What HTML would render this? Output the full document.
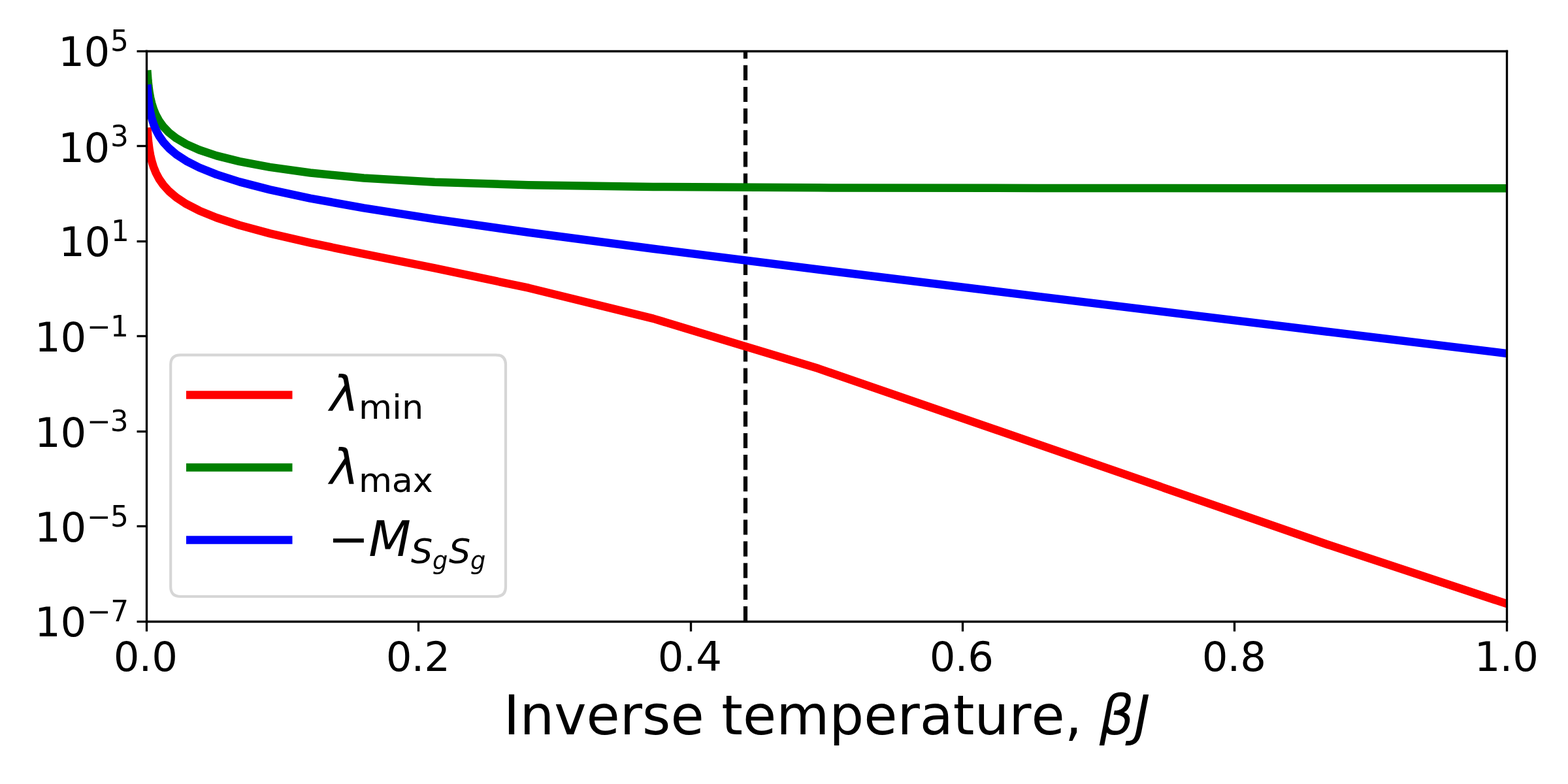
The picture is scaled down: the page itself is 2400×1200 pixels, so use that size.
<!DOCTYPE html>
<html lang="en">
<head>
<meta charset="utf-8">
<title>Eigenvalues vs inverse temperature</title>
<style>
html,body{margin:0;padding:0;background:#fff;}
body{width:2400px;height:1200px;overflow:hidden;}
svg{display:block;}
text{font-family:"DejaVu Sans","Liberation Sans",sans-serif;fill:#000;white-space:pre;}
.it{font-style:oblique;}
.tk{font-size:62.5px;}
.sp{font-size:43.75px;}
.xl{font-size:83.333px;}
.lg{font-size:75px;}
.ls{font-size:52.5px;}
.lss{font-size:36.75px;}
.curve{fill:none;stroke-width:12.5;stroke-linecap:square;stroke-linejoin:round;}
.spine{fill:none;stroke:#000;stroke-width:3.3333;stroke-linecap:square;}
.tick{fill:none;stroke:#000;stroke-width:3.3333;stroke-linecap:butt;}
</style>
</head>
<body>
<svg width="2400" height="1200" viewBox="0 0 2400 1200">
<rect x="0" y="0" width="2400" height="1200" fill="#ffffff"/>
<defs><clipPath id="axclip"><rect x="223.7" y="77.75" width="2082" height="873"/></clipPath></defs>
<g clip-path="url(#axclip)">
<line x1="1141" y1="951" x2="1141" y2="78" stroke="#000" stroke-width="6.25" stroke-dasharray="23.125 10" fill="none"/>
<polyline class="curve" stroke="#ff0000" points="225.78,201.48 226.46,210.43 227.36,219.39 228.55,228.37 230.13,237.38 232.23,246.41 235,255.49 238.68,264.63 243.56,273.84 250.03,283.16 258.61,292.61 269.98,302.26 285.06,312.16 305.04,322.43 331.54,333.21 366.66,344.74 413.22,357.35 474.95,371.66 556.79,388.68 665.28,410.39 809.11,440.71 999.79,487.61 1252.56,564.1 1587.68,679.62 2031.94,833.5 2620.91,1027.97"/>
<polyline class="curve" stroke="#008000" points="225.78,113.75 226.46,122.66 227.36,131.57 228.55,140.47 230.13,149.38 232.23,158.29 235,167.2 238.68,176.11 243.56,185.01 250.03,193.92 258.61,202.82 269.98,211.72 285.06,220.61 305.04,229.49 331.54,238.35 366.66,247.17 413.22,255.91 474.95,264.48 556.79,272.52 665.28,278.81 809.11,283.17 999.79,285.9 1252.56,287.36 1587.68,287.97 2031.94,288.16 2620.91,288.2"/>
<polyline class="curve" stroke="#0000ff" points="225.78,135.78 226.46,144.73 227.36,153.69 228.55,162.67 230.13,171.67 232.23,180.71 235,189.79 238.68,198.92 243.56,208.13 250.03,217.44 258.61,226.87 269.98,236.49 285.06,246.35 305.04,256.52 331.54,267.14 366.66,278.35 413.22,290.38 474.95,303.56 556.79,318.34 665.28,335.41 809.11,355.75 999.79,380.78 1252.56,412.49 1587.68,453.62 2031.94,507.69 2620.91,579.22"/>
</g>
<g>
<line class="tick" x1="224.5" y1="951.5" x2="224.5" y2="966.5"/>
<line class="tick" x1="640.5" y1="951.5" x2="640.5" y2="966.5"/>
<line class="tick" x1="1057.5" y1="951.5" x2="1057.5" y2="966.5"/>
<line class="tick" x1="1473.5" y1="951.5" x2="1473.5" y2="966.5"/>
<line class="tick" x1="1889.5" y1="951.5" x2="1889.5" y2="966.5"/>
<line class="tick" x1="2306.5" y1="951.5" x2="2306.5" y2="966.5"/>
<line class="tick" x1="224.5" y1="78.5" x2="209.5" y2="78.5"/>
<line class="tick" x1="224.5" y1="223.5" x2="209.5" y2="223.5"/>
<line class="tick" x1="224.5" y1="369.5" x2="209.5" y2="369.5"/>
<line class="tick" x1="224.5" y1="514.5" x2="209.5" y2="514.5"/>
<line class="tick" x1="224.5" y1="660.5" x2="209.5" y2="660.5"/>
<line class="tick" x1="224.5" y1="805.5" x2="209.5" y2="805.5"/>
<line class="tick" x1="224.5" y1="951.5" x2="209.5" y2="951.5"/>
</g>
<g>
<line class="spine" x1="224.5" y1="951.5" x2="224.5" y2="78.5"/>
<line class="spine" x1="2306.5" y1="951.5" x2="2306.5" y2="78.5"/>
<line class="spine" x1="224.5" y1="951.5" x2="2306.5" y2="951.5"/>
<line class="spine" x1="224.5" y1="78.5" x2="2306.5" y2="78.5"/>
</g>
<g class="tk">
<text x="173.8 212.57 232.33" y="1027">0.0</text>
<text x="590.8 629.57 649.33" y="1027">0.2</text>
<text x="1006.8 1045.57 1065.33" y="1027">0.4</text>
<text x="1422.8 1461.57 1481.33" y="1027">0.6</text>
<text x="1839.8 1878.57 1898.33" y="1027">0.8</text>
<text x="2256.8 2295.57 2315.33" y="1027">1.0</text>
</g>
<g>
<text class="tk" x="89.13 128.59" y="101">10</text><text class="sp" x="168.96" y="78">5</text>
<text class="tk" x="89.13 128.59" y="248">10</text><text class="sp" x="168.96" y="224">3</text>
<text class="tk" x="90.13 129.59" y="392">10</text><text class="sp" x="170.06" y="369">1</text>
<text class="tk" x="53.05 92.52" y="538">10</text><text class="sp" x="132.88 168.94" y="515">−1</text>
<text class="tk" x="53.05 92.52" y="684">10</text><text class="sp" x="132.98 168.74" y="660">−3</text>
<text class="tk" x="53.05 92.52" y="829">10</text><text class="sp" x="132.98 168.94" y="806">−5</text>
<text class="tk" x="53.05 92.52" y="974">10</text><text class="sp" x="132.98 169.14" y="951">−7</text>
</g>
<text class="xl" x="770.8 795.38 848.19 897.51 948.78 983.04 1026.46 1077.73 1104.21 1136.89 1188.16 1269.34 1322.23 1373.5 1407.76 1458.83 1491.5 1544.32 1578.58 1629.85 1656.34 1682.83 1736.01" y="1124">Inverse temperature, <tspan class="it">βJ</tspan></text>
<g>
<path d="M276.2 543.3L759 543.3Q774 543.3 774 558.3L774 898Q774 913 759 913L276.2 913Q261.2 913 261.2 898L261.2 558.3Q261.2 543.3 276.2 543.3Z" fill="#ffffff" fill-opacity="0.8" stroke="#cccccc" stroke-opacity="0.8" stroke-width="4.1667" stroke-linejoin="miter"/>
<line class="curve" stroke="#ff0000" x1="291.25" y1="604.5" x2="441.25" y2="604.5"/>
<line class="curve" stroke="#008000" x1="291.25" y1="715.5" x2="441.25" y2="715.5"/>
<line class="curve" stroke="#0000ff" x1="291.25" y1="826.5" x2="441.25" y2="826.5"/>
<text class="lg it" x="504.9" y="629">λ</text>
<text class="ls" transform="translate(548.98 641.3) scale(1 0.98)" x="0 51.3 66.03" y="0">min</text>
<text class="lg it" x="504.9" y="741">λ</text>
<text class="ls" transform="translate(548.98 753.1) scale(1 0.98)" x="0 50.85 82.82" y="0">max</text>
<text class="lg" x="502" y="851">−</text>
<text class="lg it" x="564.14" y="851">M</text>
<text class="ls it" transform="translate(628.95 862.4) scale(1 0.97)" x="0" y="0">S</text>
<text class="lss it" x="661.88" y="871.3">g</text>
<text class="ls it" transform="translate(687.04 862.4) scale(1 0.97)" x="0" y="0">S</text>
<text class="lss it" x="720.06" y="871.3">g</text>
</g>
</svg>
</body>
</html>
